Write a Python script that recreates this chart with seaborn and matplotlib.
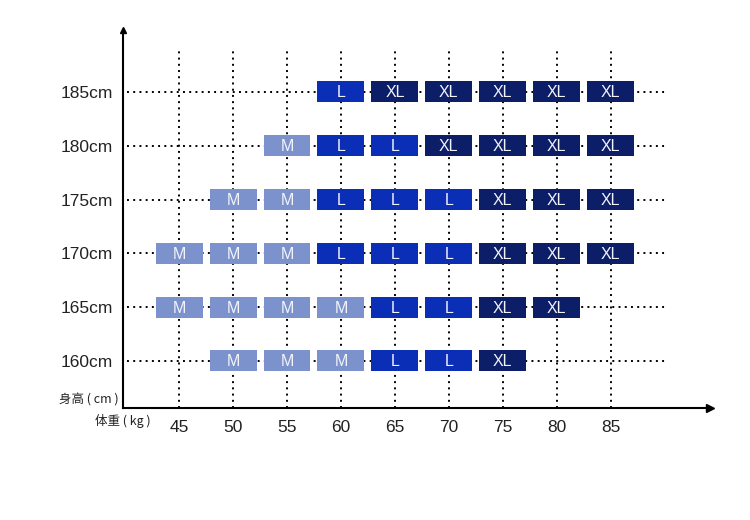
import pandas as pd
import seaborn as sns
import matplotlib.pyplot as plt

# chart data
weights = [45, 50, 55, 60, 65, 70, 75, 80, 85]
heights = [160, 165, 170, 175, 180, 185]
height_labels = ["160cm", "165cm", "170cm", "175cm", "180cm", "185cm"]

# size per row: weight -> size
row_185 = {60: "L", 65: "XL", 70: "XL", 75: "XL", 80: "XL", 85: "XL"}
row_180 = {55: "M", 60: "L", 65: "L", 70: "XL", 75: "XL", 80: "XL", 85: "XL"}
row_175 = {50: "M", 55: "M", 60: "L", 65: "L", 70: "L", 75: "XL", 80: "XL", 85: "XL"}
row_170 = {45: "M", 50: "M", 55: "M", 60: "L", 65: "L", 70: "L", 75: "XL", 80: "XL", 85: "XL"}
row_165 = {45: "M", 50: "M", 55: "M", 60: "M", 65: "L", 70: "L", 75: "XL", 80: "XL"}
row_160 = {50: "M", 55: "M", 60: "M", 65: "L", 70: "L", 75: "XL"}

size_colors = {"M": "#7b92cc", "L": "#0b2eb6", "XL": "#0d1e68"}

rows = {185: row_185, 180: row_180, 175: row_175, 170: row_170, 165: row_165, 160: row_160}
df = pd.DataFrame(
    [(w, h, s) for h, r in rows.items() for w, s in r.items()],
    columns=["weight", "height", "size"],
)

sns.set_theme(style="white")
plt.rcParams["font.family"] = ["Liberation Sans", "Noto Sans CJK SC", "DejaVu Sans"]

fig = plt.figure(figsize=(7.5, 5.2), dpi=100)
ax = fig.add_axes([123 / 750, 112 / 520, 587 / 750, 378 / 520])
ax.set_xlim(39.8, 94.2)
ax.set_ylim(155.63, 190.76)

dots = (0, (1, 2.2))
# dotted grid
for w in weights:
    ax.plot([w, w], [155.63, 188.9], color="black", lw=1.4, ls=dots, zorder=1)
for h in heights:
    ax.plot([40.2, 90.2], [h, h], color="black", lw=1.4, ls=dots, zorder=1)

# size boxes
box_w, box_h = 4.35, 1.95
ax.bar(df["weight"], box_h, bottom=df["height"] - box_h / 2, width=box_w,
       color=df["size"].map(size_colors), edgecolor="none", zorder=3)
for _, r in df.iterrows():
    ax.text(r["weight"], r["height"] - 0.08, r["size"], color="#f2f4fa", fontsize=11.5,
            ha="center", va="center", zorder=4)

# axes with arrows
for side in ["top", "right"]:
    ax.spines[side].set_visible(False)
for side in ["left", "bottom"]:
    ax.spines[side].set_color("black")
    ax.spines[side].set_linewidth(1.5)
ax.plot(1, 0, ">", color="black", ms=6, transform=ax.transAxes, clip_on=False)
ax.plot(0, 1, "^", color="black", ms=5, transform=ax.transAxes, clip_on=False)

ax.set_xticks(weights, [str(w) for w in weights])
ax.set_yticks(heights, height_labels)
ax.tick_params(axis="x", length=0, pad=9, labelsize=12.5, colors="#222222")
ax.tick_params(axis="y", length=0, pad=7, labelsize=12.5, colors="#222222")

fig.text(119 / 750, 120 / 520, "身高 ( cm )", ha="right", va="center", fontsize=9,
         family=["Noto Sans CJK SC", "DejaVu Sans"], color="#222222")
fig.text(151 / 750, 99 / 520, "体重 ( kg )", ha="right", va="center", fontsize=9,
         family=["Noto Sans CJK SC", "DejaVu Sans"], color="#222222")

plt.savefig("out.png", dpi=100)
